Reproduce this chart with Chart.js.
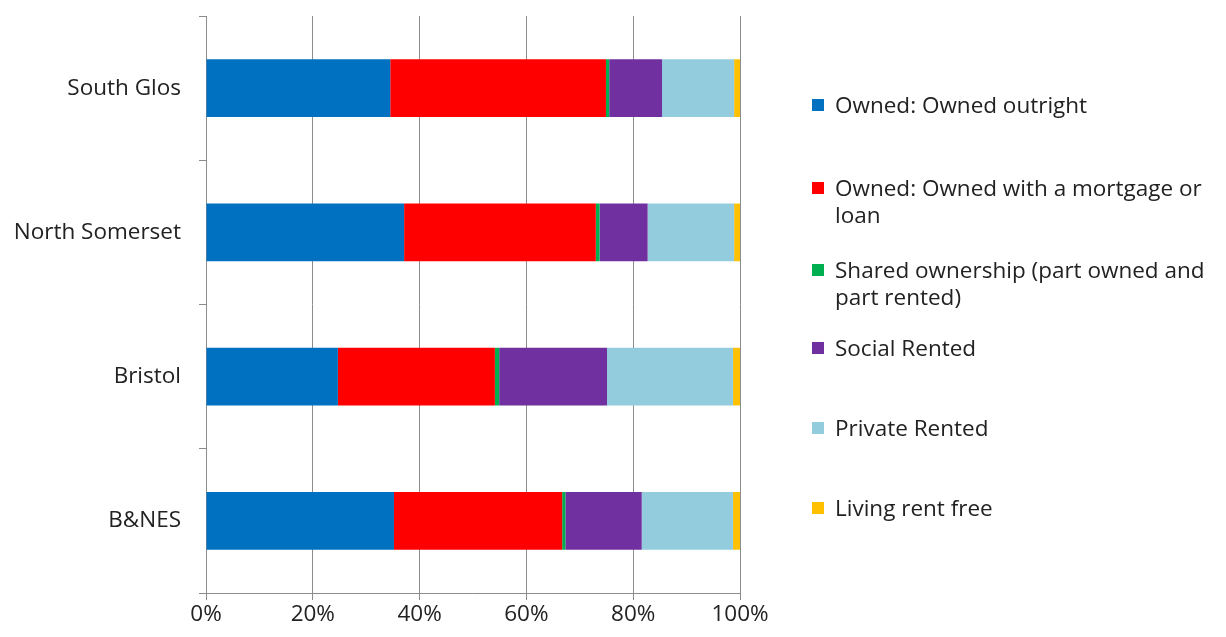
<!DOCTYPE html>
<html>
<head>
<meta charset="utf-8">
<script src="https://cdn.jsdelivr.net/npm/chart.js@4/dist/chart.umd.min.js"></script>
<style>
  html, body { margin: 0; padding: 0; background: #fff; }
  #wrap { position: relative; width: 1226px; height: 637px; overflow: hidden; }
  canvas { position: absolute; left: 0; top: 0; }
  .leg { position: absolute; left: 812px; font-family: "Open Sans", sans-serif; font-size: 22.5px; line-height: 27px; color: #222; width: 412px; }
  .leg .sw { position: absolute; left: 0; top: 8px; width: 12px; height: 12px; }
  .leg .tx { margin-left: 23px; display: block; }
</style>
</head>
<body>
<div id="wrap">
  <canvas id="c" width="1226" height="637"></canvas>
</div>
<script>
const categories = ['South Glos', 'North Somerset', 'Bristol', 'B&NES'];
const seriesNames = [
  'Owned: Owned outright',
  'Owned: Owned with a mortgage or loan',
  'Shared ownership (part owned and part rented)',
  'Social Rented',
  'Private Rented',
  'Living rent free'
];
const ownedOutright   = [34.5, 37.1, 24.7, 35.2];
const ownedMortgage   = [40.4, 35.9, 29.4, 31.5];
const sharedOwnership = [0.6, 0.7, 0.8, 0.6];
const socialRented    = [9.9, 9.0, 20.2, 14.3];
const privateRented   = [13.5, 16.2, 23.6, 17.1];
const rentFree        = [1.1, 1.1, 1.3, 1.3];
const xTicks = [0, 20, 40, 60, 80, 100];

const seriesValues = [ownedOutright, ownedMortgage, sharedOwnership, socialRented, privateRented, rentFree];
const colors = ['#0070C0', '#FF0000', '#00B050', '#7030A0', '#93CDDD', '#FFC000'];
const legendTops = [91, 174, 256, 334, 414, 494];

const FONT = "'Open Sans', sans-serif";
const GRID = '#8c8c8c';

new Chart(document.getElementById('c'), {
  type: 'bar',
  data: {
    labels: categories,
    datasets: seriesNames.map((n, i) => ({
      label: n,
      data: seriesValues[i],
      backgroundColor: colors[i],
      borderWidth: 0,
      categoryPercentage: 1,
      barPercentage: 0.4
    }))
  },
  options: {
    indexAxis: 'y',
    responsive: false,
    animation: false,
    layout: { padding: { left: 0, right: 486, top: 16, bottom: 0 } },
    plugins: { legend: { display: false }, tooltip: { enabled: false } },
    scales: {
      x: {
        stacked: true,
        min: 0, max: 100,
        afterBuildTicks: s => { s.ticks = xTicks.map(v => ({ value: v })); },
        afterFit: s => { s.height = 44; },
        border: { color: GRID, width: 1 },
        grid: { color: GRID, lineWidth: 1, tickLength: 7, drawTicks: true },
        ticks: { callback: v => v + '%', color: '#222', font: { family: FONT, size: 22.5 }, padding: 1, maxRotation: 0 }
      },
      y: {
        stacked: true,
        afterFit: s => { s.width = 206; s.paddingTop = 0; s.paddingBottom = 0; },
        border: { color: GRID, width: 1 },
        grid: { color: GRID, drawOnChartArea: false, tickLength: 7, offset: true },
        ticks: { color: '#222', font: { family: FONT, size: 22.5 }, padding: 18 }
      }
    }
  }
});

const wrap = document.getElementById('wrap');
seriesNames.forEach((n, i) => {
  const d = document.createElement('div');
  d.className = 'leg';
  d.style.top = legendTops[i] + 'px';
  const sw = document.createElement('span');
  sw.className = 'sw';
  sw.style.background = colors[i];
  const tx = document.createElement('span');
  tx.className = 'tx';
  tx.textContent = n;
  d.appendChild(sw); d.appendChild(tx);
  wrap.appendChild(d);
});
</script>
</body>
</html>
